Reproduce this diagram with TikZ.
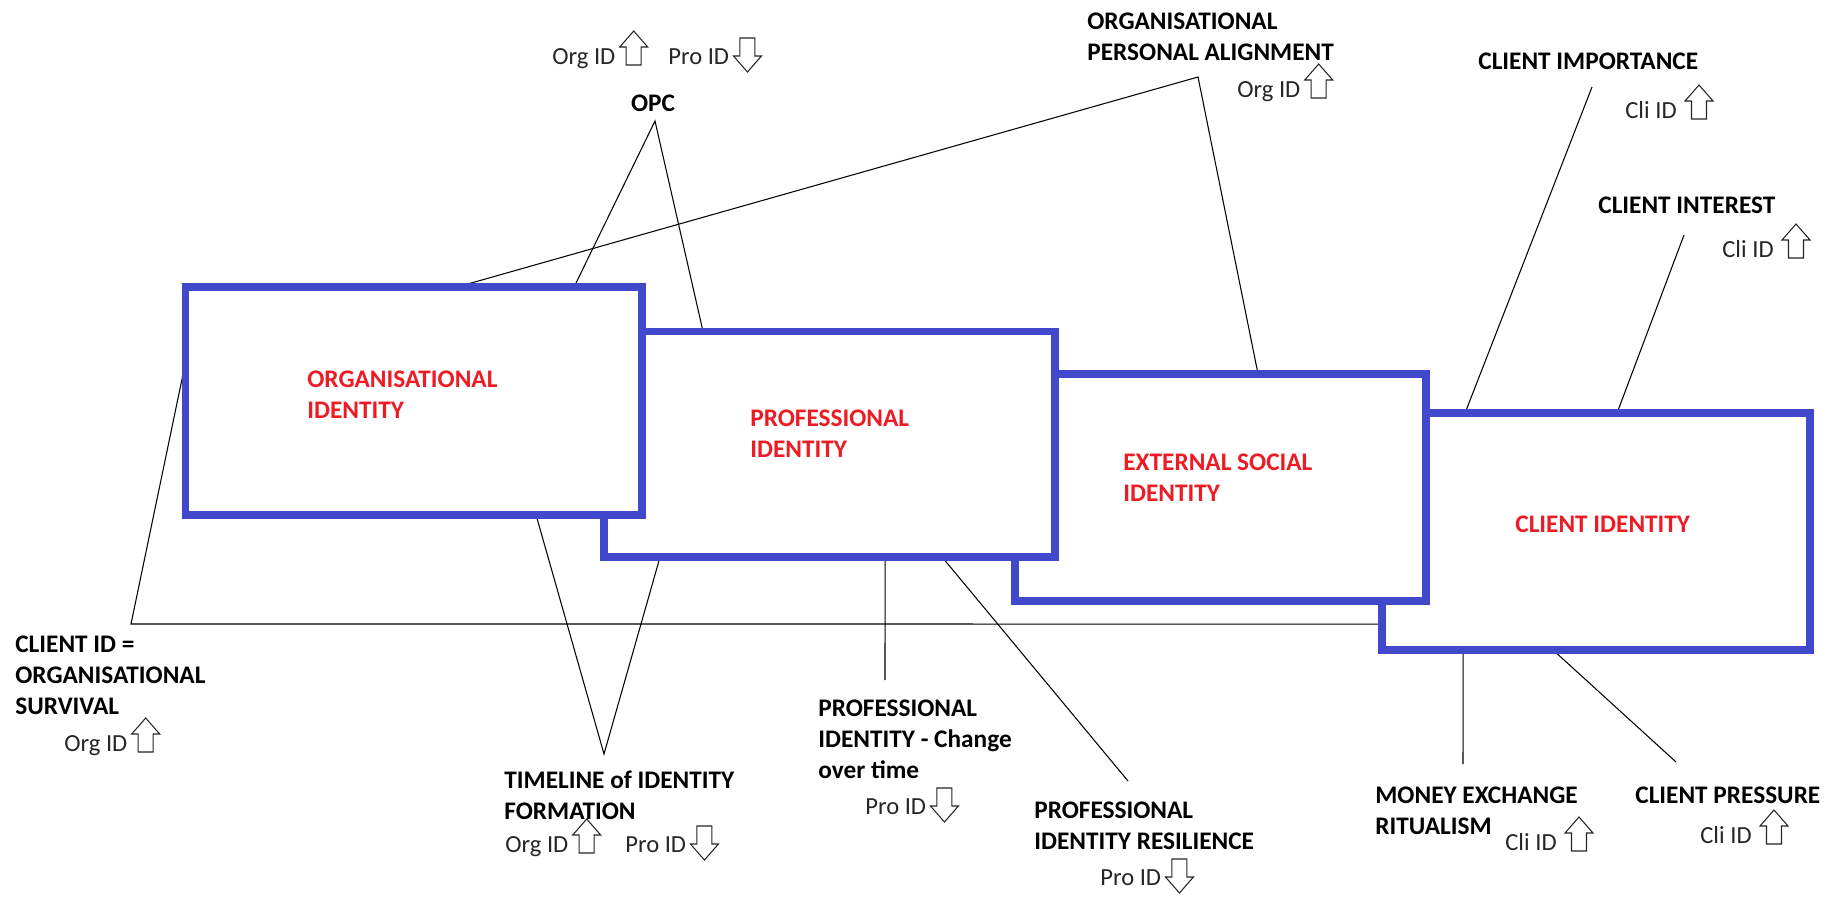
\documentclass[tikz,border=0pt]{standalone}
\usepackage{fontspec}
\setmainfont{Carlito}
\usetikzlibrary{calc}
\pgfdeclarelayer{background}
\pgfsetlayers{background,main}
\definecolor{boxblue}{RGB}{65,72,204}
\definecolor{idred}{RGB}{237,28,36}
\tikzset{
  idbox/.style={draw=boxblue, line width=0.15cm, fill=white, inner sep=0pt, outer sep=0pt},
  link/.style={draw=black, line width=0.6pt},
  % multi-line labels are placed by the baseline of their last line
  head/.style={font=\fontsize{14.4pt}{17.6pt}\selectfont\bfseries, align=left, inner sep=0pt, anchor=base west},
  boxlabel/.style={head, text=idred},
  tag/.style={font=\fontsize{14pt}{17pt}\selectfont, inner sep=0pt, anchor=base west, text=black!85},
  arrowline/.style={draw=black!85, line width=0.6pt, fill=white, line join=miter},
  % hollow block arrows, origin at the bottom centre
  uparr/.pic={\draw[arrowline] (-7.5,0) -- (-7.5,-18) -- (-14,-18) -- (0,-34) -- (14,-18) -- (7.5,-18) -- (7.5,0) -- cycle;},
  dnarr/.pic={\draw[arrowline] (0,0) -- (-14,-16) -- (-7.5,-16) -- (-7.5,-34) -- (7.5,-34) -- (7.5,-16) -- (14,-16) -- cycle;}
}
\begin{document}
\begin{tikzpicture}[x=0.02cm,y=-0.02cm]
\useasboundingbox (0,0) rectangle (1838,896);

% identity boxes, back to front
\node[idbox, minimum width=8.56cm, minimum height=4.74cm] (cli) at (1596,531.5) {};
\node[idbox, minimum width=8.22cm, minimum height=4.54cm] (ext) at (1220.5,487.5) {};
\node[idbox, minimum width=9.02cm, minimum height=4.51cm] (pro) at (829.5,444.25) {};
\node[idbox, minimum width=9.13cm, minimum height=4.56cm] (org) at (413.75,401) {};

\node[boxlabel] (orgt) at (307,418) {ORGANISATIONAL\\IDENTITY};
\node[boxlabel] (prot) at (750,457) {PROFESSIONAL\\IDENTITY};
\node[boxlabel] (extt) at (1123,501) {EXTERNAL SOCIAL\\IDENTITY};
\node[boxlabel] (clit) at (1515,532) {CLIENT IDENTITY};

% points where the connectors meet the boxes
\coordinate (org-opc) at ($(org.north west)+(388.5,0)$);
\coordinate (org-opa) at ($(org.north west)+(271.5,0)$);
\coordinate (org-left) at ($(org.north west)+(0,75)$);
\coordinate (org-tl) at ($(org.south west)+(350.5,0)$);
\coordinate (pro-opc) at ($(pro.north west)+(99,0)$);
\coordinate (pro-tl) at ($(pro.south west)+(56,0)$);
\coordinate (pro-chg) at ($(pro.south west)+(281,0)$);
\coordinate (pro-res) at ($(pro.south west)+(338,0)$);
\coordinate (ext-opa) at ($(ext.north west)+(243,0)$);
\coordinate (cli-imp) at ($(cli.north west)+(83,0)$);
\coordinate (cli-int) at ($(cli.north west)+(235,0)$);
\coordinate (cli-mon) at ($(cli.south west)+(81,0)$);
\coordinate (cli-pre) at ($(cli.south west)+(171,0)$);
\coordinate (cli-left) at ($(cli.north west)+(0,211)$);

% free ends of the connectors
\coordinate (opc-apex) at (655,121);
\coordinate (opa-apex) at (1198,77);
\coordinate (imp-top) at (1592,87);
\coordinate (int-top) at (1684,235);
\coordinate (surv-corner) at (131,624);
\coordinate (tl-apex) at (604,754);
\coordinate (chg-end) at (885,680);
\coordinate (res-end) at (1128,781);
\coordinate (mon-end) at (1463,764);
\coordinate (pre-end) at (1676,762);

\begin{pgfonlayer}{background}
\draw[link] (org-opc) -- (opc-apex) -- (pro-opc);
\draw[link] (org-opa) -- (opa-apex) -- (ext-opa);
\draw[link] (imp-top) -- (cli-imp);
\draw[link] (int-top) -- (cli-int);
\draw[link] (org-left) -- (surv-corner) -- (cli-left);
\draw[link] (org-tl) -- (tl-apex) -- (pro-tl);
\draw[link] (pro-chg) -- (chg-end);
\draw[link] (pro-res) -- (res-end);
\draw[link] (cli-mon) -- (mon-end);
\draw[link] (cli-pre) -- (pre-end);
\end{pgfonlayer}

% OPC
\node[tag] (opc-org) at (552,64) {Org ID};
\pic at ($(opc-org.base east)+(18,1)$) {uparr};
\node[tag] (opc-pro) at (668,64) {Pro ID};
\pic at ($(opc-pro.base east)+(18,8)$) {dnarr};
\node[head, anchor=base] (opc) at (653,111) {OPC};

% organisational personal alignment
\node[head] (opa) at (1087,60) {ORGANISATIONAL\\PERSONAL ALIGNMENT};
\node[tag] (opa-org) at (1237,97) {Org ID};
\pic at ($(opa-org.base east)+(18,1)$) {uparr};

% client importance / interest
\node[head] (imp) at (1478,69) {CLIENT IMPORTANCE};
\node[tag] (imp-cli) at (1625,118) {Cli ID};
\pic at ($(imp-cli.base east)+(22,1)$) {uparr};
\node[head] (int) at (1598,213) {CLIENT INTEREST};
\node[tag] (int-cli) at (1722,257) {Cli ID};
\pic at ($(int-cli.base east)+(22,1)$) {uparr};

% client id = organisational survival
\node[head] (surv) at (15,714) {CLIENT ID =\\ORGANISATIONAL\\SURVIVAL};
\node[tag] (surv-org) at (64,751) {Org ID};
\pic at ($(surv-org.base east)+(18,1)$) {uparr};

% timeline of identity formation
\node[head] (tl) at (504,819) {TIMELINE of IDENTITY\\FORMATION};
\node[tag] (tl-org) at (505,852) {Org ID};
\pic at ($(tl-org.base east)+(18,1)$) {uparr};
\node[tag] (tl-pro) at (625,852) {Pro ID};
\pic at ($(tl-pro.base east)+(18,8)$) {dnarr};

% professional identity - change over time
\node[head] (chg) at (818,778) {PROFESSIONAL\\IDENTITY - Change\\over time};
\node[tag] (chg-pro) at (865,814) {Pro ID};
\pic at ($(chg-pro.base east)+(18,8)$) {dnarr};

% professional identity resilience
\node[head] (res) at (1034,849) {PROFESSIONAL\\IDENTITY RESILIENCE};
\node[tag] (res-pro) at (1100,885) {Pro ID};
\pic at ($(res-pro.base east)+(18,8)$) {dnarr};

% money exchange ritualism
\node[head] (mon) at (1375,834) {MONEY EXCHANGE\\RITUALISM};
\node[tag] (mon-cli) at (1505,850) {Cli ID};
\pic at ($(mon-cli.base east)+(22,1)$) {uparr};

% client pressure
\node[head] (pre) at (1635,803) {CLIENT PRESSURE};
\node[tag] (pre-cli) at (1700,843) {Cli ID};
\pic at ($(pre-cli.base east)+(22,1)$) {uparr};
\end{tikzpicture}
\end{document}
